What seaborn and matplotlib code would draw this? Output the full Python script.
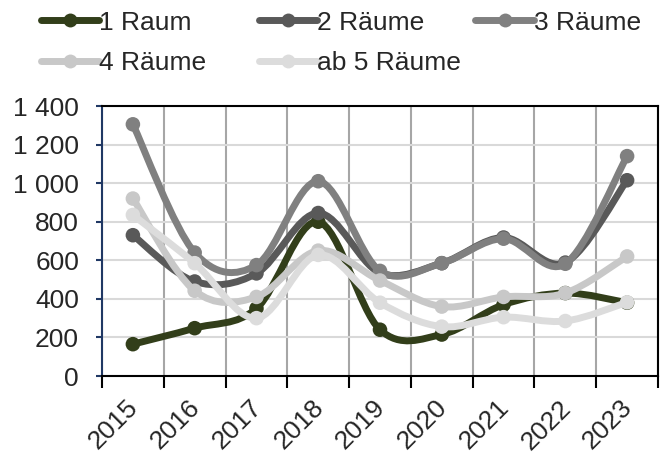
import numpy as np
import pandas as pd
import seaborn as sns
import matplotlib.pyplot as plt
from matplotlib.path import Path
from matplotlib.patches import PathPatch
from matplotlib.lines import Line2D
import matplotlib.transforms as mtransforms

# Data
years = ['2015', '2016', '2017', '2018', '2019', '2020', '2021', '2022', '2023']
raum_1 = [165, 248, 350, 800, 240, 215, 370, 430, 380]
raeume_2 = [730, 490, 532, 845, 535, 585, 718, 588, 1015]
raeume_3 = [1305, 640, 575, 1010, 545, 585, 712, 582, 1140]
raeume_4 = [920, 442, 410, 650, 495, 360, 410, 430, 620]
raeume_5 = [835, 585, 300, 628, 380, 256, 305, 285, 382]

series_names = ['1 Raum', '2 Räume', '3 Räume', '4 Räume', 'ab 5 Räume']
series_values = [raum_1, raeume_2, raeume_3, raeume_4, raeume_5]
colors = ['#323E1A', '#595959', '#808080', '#C8C8C8', '#DCDCDC']

y_ticks = [0, 200, 400, 600, 800, 1000, 1200, 1400]
y_labels = ['0', '200', '400', '600', '800', '1 000', '1 200', '1 400']

sns.set_style('white')
plt.rcParams['font.family'] = ['Liberation Sans', 'DejaVu Sans']

fig = plt.figure(figsize=(6.68, 4.53), dpi=100)
ax = fig.add_axes([102 / 668, 1 - 376 / 453, 556 / 668, 270 / 453])


def smooth_path(xs, ys):
    # Excel-like smoothed line: cubic bezier through every point
    pts = np.column_stack([xs, ys]).astype(float)
    ext = np.vstack([pts[0], pts, pts[-1]])
    verts = [pts[0]]
    codes = [Path.MOVETO]
    for i in range(len(pts) - 1):
        p0, p1, p2, p3 = ext[i], ext[i + 1], ext[i + 2], ext[i + 3]
        verts += [p1 + (p2 - p0) / 6, p2 - (p3 - p1) / 6, p2]
        codes += [Path.CURVE4] * 3
    return Path(verts, codes)


x_pos = np.arange(len(years))
for i, (name, vals, col) in enumerate(zip(series_names, series_values, colors)):
    df = pd.DataFrame({'x': x_pos, 'y': vals})
    patch = PathPatch(smooth_path(df['x'], df['y']), facecolor='none', edgecolor=col,
                      lw=5, capstyle='round', joinstyle='round', zorder=3 + 2 * i)
    ax.add_patch(patch)
    sns.scatterplot(data=df, x='x', y='y', color=col, s=110, edgecolor='none',
                    ax=ax, zorder=4 + 2 * i, legend=False)

ax.set_xlim(-0.5, len(years) - 0.5)
ax.set_ylim(0, 1400)
ax.set_xlabel('')
ax.set_ylabel('')

# category boundaries carry ticks and vertical grid
ax.set_xticks(np.arange(-0.5, len(years), 1))
ax.set_xticklabels([])
ax.set_xticks(x_pos, minor=True)
ax.set_xticklabels(years, minor=True, fontsize=19, rotation=45, ha='right',
                   rotation_mode='anchor')
ax.tick_params(axis='x', which='major', direction='out', length=8.5, width=1.5,
               color='black', bottom=True)
ax.tick_params(axis='x', which='minor', length=0, pad=14)
offset = mtransforms.ScaledTranslation(-7 / 100, 0, fig.dpi_scale_trans)
for lab in ax.get_xticklabels(minor=True):
    lab.set_transform(lab.get_transform() + offset)

ax.set_yticks(y_ticks)
ax.set_yticklabels(y_labels, fontsize=19)
ax.tick_params(axis='y', direction='out', length=4.5, width=1.5, color='#203864',
               left=True, pad=12)

ax.grid(False)
ax.vlines(np.arange(-0.5, len(years), 1), 0, 1400, color='#A6A6A6', lw=1.5, zorder=1)
ax.hlines(y_ticks, -0.5, len(years) - 0.5, color='#D9D9D9', lw=1.5, zorder=1)

for side in ['top', 'right', 'bottom']:
    ax.spines[side].set_color('black')
    ax.spines[side].set_linewidth(1.5)
    ax.spines[side].set_zorder(20)
ax.spines['left'].set_color('#203864')
ax.spines['left'].set_linewidth(1.5)
ax.spines['left'].set_zorder(20)

# legend in three fixed columns like the original
handles = [Line2D([0], [0], color=c, lw=5, marker='o', markersize=10,
                  markeredgewidth=0) for c in colors]
columns = [([0, 3], 0.045), ([1, 4], 0.372), ([2], 0.696)]
for idx, x0 in columns:
    leg = fig.legend([handles[k] for k in idx], [series_names[k] for k in idx],
                     loc='upper left', bbox_to_anchor=(x0, 1.0), frameon=False,
                     fontsize=19, handlelength=2.2, handletextpad=0.0,
                     labelspacing=0.62, borderaxespad=0)

fig.savefig('out.png', dpi=100)
